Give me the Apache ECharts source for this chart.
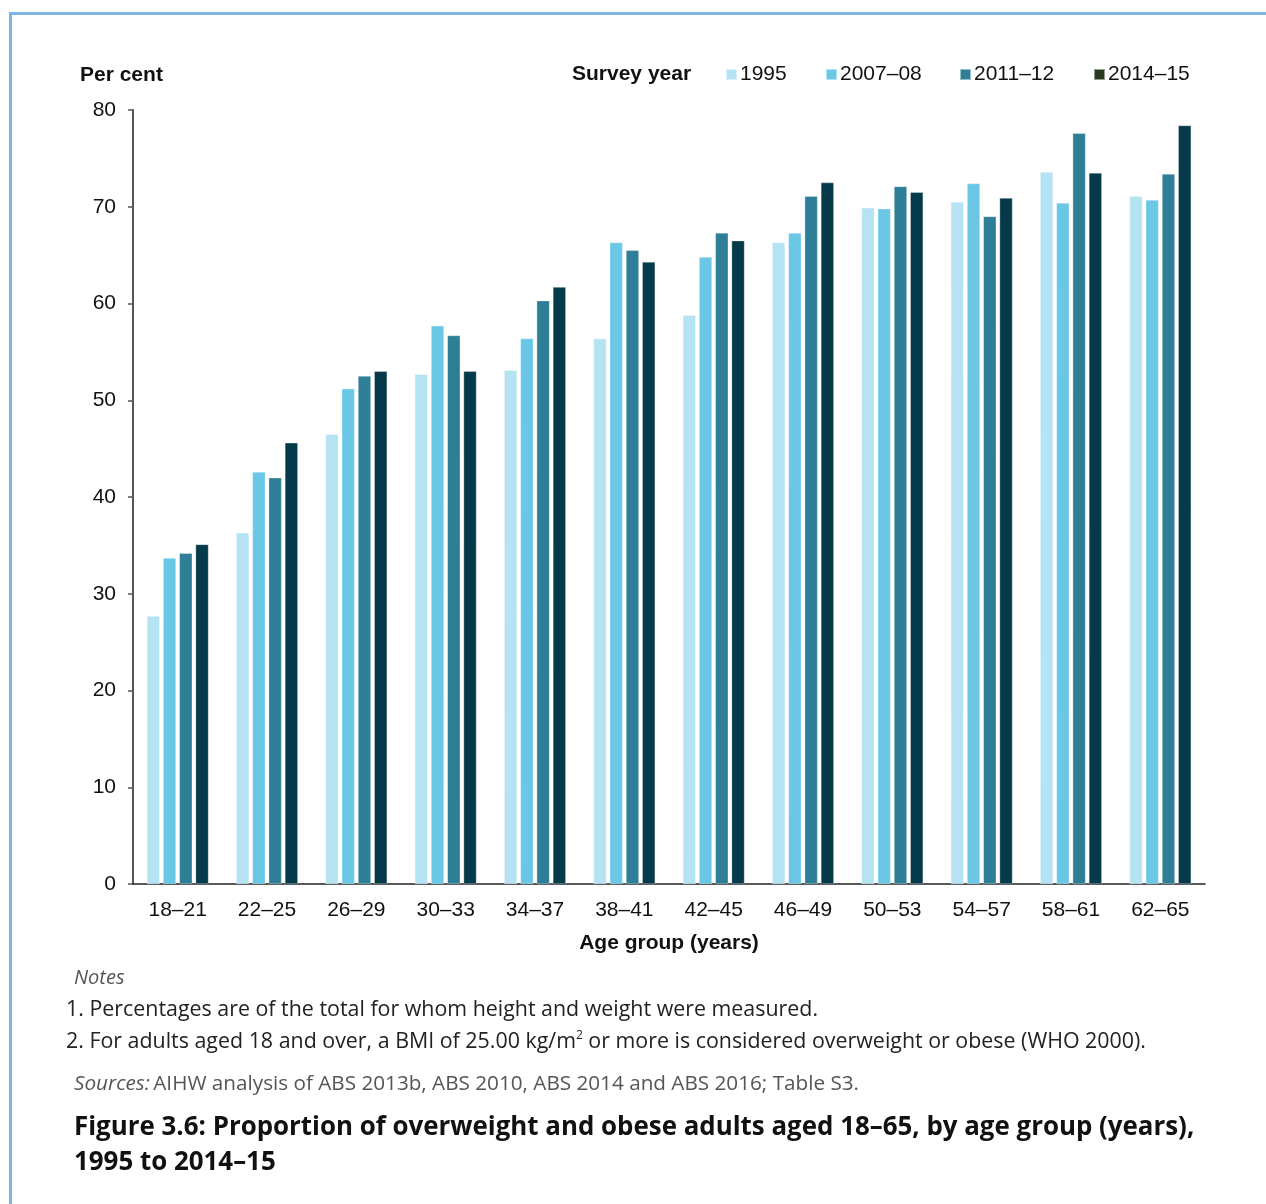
<!DOCTYPE html>
<html>
<head>
<meta charset="utf-8">
<script src="https://cdn.jsdelivr.net/npm/echarts@6/dist/echarts.min.js"></script>
<style>
html,body{margin:0;padding:0;background:#fff;}
#c{width:1266px;height:1204px;}
</style>
</head>
<body>
<div id="c"></div>
<script>
const categories = ['18–21','22–25','26–29','30–33','34–37','38–41','42–45','46–49','50–53','54–57','58–61','62–65'];
const seriesNames = ['1995','2007–08','2011–12','2014–15'];
const v1995 = [27.7, 36.3, 46.5, 52.7, 53.1, 56.4, 58.8, 66.3, 69.9, 70.5, 73.6, 71.1];
const v2007 = [33.7, 42.6, 51.2, 57.7, 56.4, 66.3, 64.8, 67.3, 69.8, 72.4, 70.4, 70.7];
const v2011 = [34.2, 42.0, 52.5, 56.7, 60.3, 65.5, 67.3, 71.1, 72.1, 69.0, 77.6, 73.4];
const v2014 = [35.1, 45.6, 53.0, 53.0, 61.7, 64.3, 66.5, 72.5, 71.5, 70.9, 73.5, 78.4];
const yTicks = [0, 80, 10];

const barColors = ['#B6E3F4', '#6BC7E6', '#2E7E97', '#053A4A'];
const legendColors = ['#B6E3F4', '#6BC7E6', '#2E7E97', '#273A1E'];
const legendLeft = [725, 825, 959, 1093];
const values = [v1995, v2007, v2011, v2014];

const chartFont = '"Liberation Sans", Arial, sans-serif';
const noteFont = '"Open Sans", "Noto Sans", sans-serif';

const chart = echarts.init(document.getElementById('c'), null, {renderer: 'canvas'});

const option = {
  animation: false,
  backgroundColor: '#fff',
  textStyle: {fontFamily: chartFont},
  grid: {left: 133, right: 61, top: 110, bottom: 320, containLabel: false},
  legend: seriesNames.map((n, i) => ({
    left: legendLeft[i],
    top: 64,
    icon: 'rect',
    itemWidth: 11,
    itemHeight: 11,
    itemGap: 0,
    padding: 0,
    selectedMode: false,
    textStyle: {fontFamily: chartFont, fontSize: 21, color: '#111', padding: [0, 0, 0, -2]},
    data: [{name: n, itemStyle: {color: legendColors[i]}}]
  })),
  xAxis: {
    type: 'category',
    data: categories,
    axisTick: {show: false},
    axisLine: {lineStyle: {color: '#222', width: 1.5}},
    axisLabel: {fontFamily: chartFont, fontSize: 21, color: '#111', margin: 16},
    name: 'Age group (years)',
    nameLocation: 'middle',
    nameGap: 49,
    nameTextStyle: {fontFamily: chartFont, fontSize: 21, fontWeight: 'bold', color: '#111'}
  },
  yAxis: {
    type: 'value',
    min: yTicks[0],
    max: yTicks[1],
    interval: yTicks[2],
    splitLine: {show: false},
    axisLine: {show: true, lineStyle: {color: '#555', width: 2}},
    axisTick: {show: true, length: 5, lineStyle: {color: '#555', width: 1.5}},
    axisLabel: {fontFamily: chartFont, fontSize: 21, color: '#111', margin: 17}
  },
  series: seriesNames.map((n, i) => ({
    name: n,
    type: 'bar',
    data: values[i],
    barWidth: 13,
    barGap: '25%',
    itemStyle: {color: barColors[i], borderColor: 'rgba(255,255,255,0.5)', borderWidth: 0.6}
  })),
  graphic: [
    {type: 'rect', shape: {x: 10.5, y: 13.5, width: 1400, height: 1400},
     style: {fill: 'none', stroke: '#7FB5E3', lineWidth: 3}, silent: true},
    {type: 'text', left: 80, top: 65,
     style: {text: 'Per cent', font: 'bold 21px ' + chartFont, fill: '#111'}},
    {type: 'text', left: 572, top: 64,
     style: {text: 'Survey year', font: 'bold 21px ' + chartFont, fill: '#111'}},
    {type: 'text', left: 74, top: 968,
     style: {text: 'Notes', font: 'italic 20px ' + noteFont, fill: '#555'}},
    {type: 'text', left: 66, top: 999,
     style: {text: '1. Percentages are of the total for whom height and weight were measured.', font: '21.4px ' + noteFont, fill: '#222'}},
    {type: 'text', left: 66, top: 1027,
     style: {
       text: '{n|2. For adults aged 18 and over, a BMI of 25.00 kg/m}{s|2}{n| or more is considered overweight or obese (WHO 2000).}',
       rich: {
         n: {font: '21.4px ' + noteFont, fill: '#222', lineHeight: 29},
         s: {font: '12px ' + noteFont, fill: '#222', verticalAlign: 'top', lineHeight: 29, padding: [3, 0, 0, 0]}
       }
     }},
    {type: 'text', left: 74, top: 1074,
     style: {
       text: '{i|Sources:} {r|AIHW analysis of ABS 2013b, ABS 2010, ABS 2014 and ABS 2016; Table S3.}',
       rich: {
         i: {font: 'italic 20.7px ' + noteFont, fill: '#555'},
         r: {font: '20.7px ' + noteFont, fill: '#555'}
       }
     }},
    {type: 'text', left: 74, top: 1110,
     style: {text: 'Figure 3.6: Proportion of overweight and obese adults aged 18–65, by age group (years),\n1995 to 2014–15',
       font: 'bold 25.9px ' + noteFont, fill: '#111', lineHeight: 35}}
  ]
};
chart.setOption(option);
</script>
</body>
</html>
